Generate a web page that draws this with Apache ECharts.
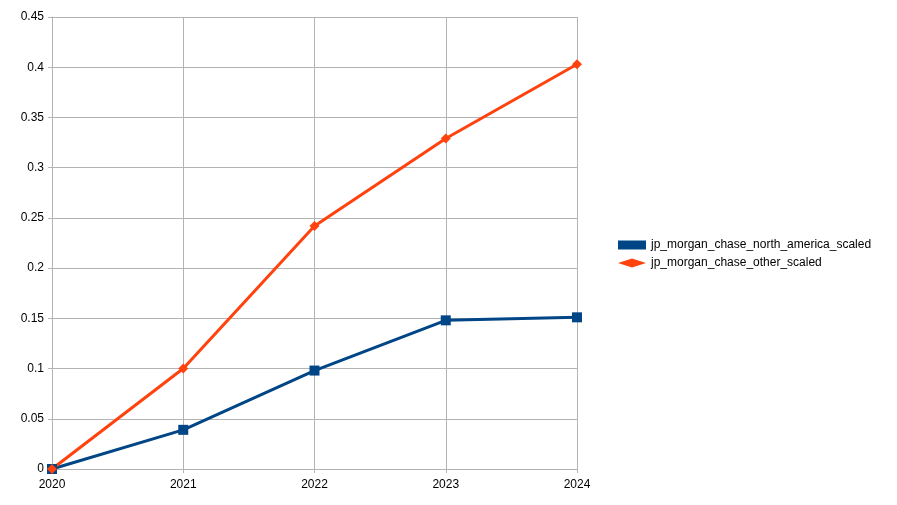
<!DOCTYPE html>
<html>
<head>
<meta charset="utf-8">
<script src="https://cdn.jsdelivr.net/npm/echarts@6/dist/echarts.min.js"></script>
<style>
    html, body { margin: 0; padding: 0; background: #fff; }
    #chart { width: 897px; height: 505px; }
</style>
</head>
<body>
<div id="chart"></div>
<script>
// 数据
var years = ['2020', '2021', '2022', '2023', '2024']
var northAmerica = [0, 0.039, 0.098, 0.148, 0.151]
var other = [0, 0.1, 0.242, 0.329, 0.403]

var myChart = echarts.init(document.getElementById('chart'))

var labelStyle = {
    color: '#000',
    fontFamily: 'Liberation Sans',
    fontSize: 12
}

myChart.setOption({
    animation: false,
    color: ['#004586', '#ff420e'],
    grid: {
        left: 52,
        top: 17,
        width: 525,
        height: 452
    },
    legend: {
        orient: 'vertical',
        left: 613,
        top: 234,
        itemGap: 6,
        itemWidth: 28,
        itemHeight: 9,
        textStyle: labelStyle,
        data: [
            { name: 'jp_morgan_chase_north_america_scaled', icon: 'rect' },
            { name: 'jp_morgan_chase_other_scaled', icon: 'diamond' }
        ]
    },
    xAxis: {
        type: 'category',
        boundaryGap: false,
        data: years,
        axisLine: { lineStyle: { color: '#b3b3b3' } },
        axisTick: { show: true, length: 4, lineStyle: { color: '#b3b3b3' } },
        axisLabel: Object.assign({ margin: 10 }, labelStyle),
        splitLine: { show: true, lineStyle: { color: '#b3b3b3' } }
    },
    yAxis: {
        type: 'value',
        min: 0,
        max: 0.45,
        interval: 0.05,
        axisLine: { show: true, lineStyle: { color: '#b3b3b3' } },
        axisTick: { show: true, length: 4, lineStyle: { color: '#b3b3b3' } },
        axisLabel: Object.assign({
            margin: 8,
            formatter: function (v) { return String(+v.toFixed(2)) }
        }, labelStyle),
        splitLine: { lineStyle: { color: '#b3b3b3' } }
    },
    series: [
        {
            type: 'line',
            name: 'jp_morgan_chase_north_america_scaled',
            symbol: 'rect',
            symbolSize: 10,
            lineStyle: { width: 3 },
            data: northAmerica
        },
        {
            type: 'line',
            name: 'jp_morgan_chase_other_scaled',
            symbol: 'diamond',
            symbolSize: 10,
            lineStyle: { width: 3 },
            data: other
        }
    ]
})
</script>
</body>
</html>
